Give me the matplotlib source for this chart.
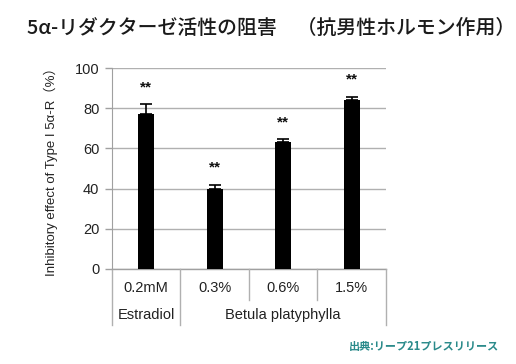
import matplotlib
matplotlib.use('Agg')
import matplotlib.pyplot as plt
import matplotlib.transforms as mtransforms

plt.rcParams['font.family'] = ['Liberation Sans', 'Noto Sans CJK JP', 'DejaVu Sans']

# data
doses = ['0.2mM', '0.3%', '0.6%', '1.5%']
groups = ['Estradiol', 'Betula platyphylla']
group_spans = [(0, 0), (1, 3)]
values = [77, 40, 63, 84]
errors = [5, 2, 1.5, 1.8]
marks = ['**', '**', '**', '**']
yticks = [0, 20, 40, 60, 80, 100]

fig = plt.figure(figsize=(5.16, 3.64), dpi=100)
ax = fig.add_axes([0.217, 0.261, 0.531, 0.552])

x = list(range(len(values)))
ax.bar(x, values, width=0.23, color='black', zorder=3)
ax.errorbar(x, values, yerr=[[0] * len(values), errors], fmt='none',
            ecolor='black', elinewidth=1.2, capsize=4, capthick=1.2, zorder=4)
for xi, v, e, m in zip(x, values, errors, marks):
    ax.text(xi, v + e + 5, m, ha='center', va='bottom', fontsize=11, fontweight='bold', color='#111111')

ax.set_xlim(-0.5, 3.5)
ax.set_ylim(0, 100)
ax.set_yticks(yticks)
ax.set_yticklabels([str(t) for t in yticks], fontsize=10.5, color='#222222')
ax.set_xticks([])
ax.grid(axis='y', color='#b0b0b0', linewidth=1, zorder=0)
ax.tick_params(axis='y', length=5, color='#a0a0a0', width=1, pad=4)
for side in ['top', 'right', 'bottom']:
    ax.spines[side].set_visible(False)
ax.spines['left'].set_color('#a0a0a0')
ax.axhline(0, color='#a0a0a0', linewidth=1, zorder=2, clip_on=False)

ax.set_ylabel('Inhibitory effect of Type I 5α-R（%）', fontsize=9.5, color='#222222', labelpad=12)

# category table below the axis
trans = mtransforms.blended_transform_factory(ax.transData, ax.transAxes)
row1 = -0.154
row2 = -0.279
for xi, d in zip(x, doses):
    ax.text(xi, -0.095, d, transform=trans, ha='center', va='center', fontsize=10.5, color='#222222')
bounds_full = [-0.5, 3.5]
for (a, b) in group_spans:
    bounds_full += [a - 0.5, b + 0.5]
for bx in sorted(set(bounds_full)):
    ax.plot([bx, bx], [0, row2], transform=trans, color='#b0b0b0', linewidth=1, clip_on=False)
for bx in [i + 0.5 for i in range(len(doses) - 1)]:
    if bx not in bounds_full:
        ax.plot([bx, bx], [0, row1], transform=trans, color='#b0b0b0', linewidth=1, clip_on=False)
for g, (a, b) in zip(groups, group_spans):
    ax.text((a + b) / 2, -0.23, g, transform=trans, ha='center', va='center', fontsize=10.5, color='#222222')

fig.text(0.052, 0.922, '5α-リダクターゼ活性の阻害　（抗男性ホルモン作用）', fontsize=14.3,
         fontweight='medium', family=['Noto Sans CJK JP', 'DejaVu Sans'], color='#1a1a1a',
         va='center', ha='left')
fig.text(0.968, 0.047, '出典:リープ21プレスリリース', fontsize=8, fontweight='bold',
         family=['Noto Sans CJK JP', 'DejaVu Sans'], color='#2a8a8a', va='center', ha='right')

fig.savefig('out.png', dpi=100)
